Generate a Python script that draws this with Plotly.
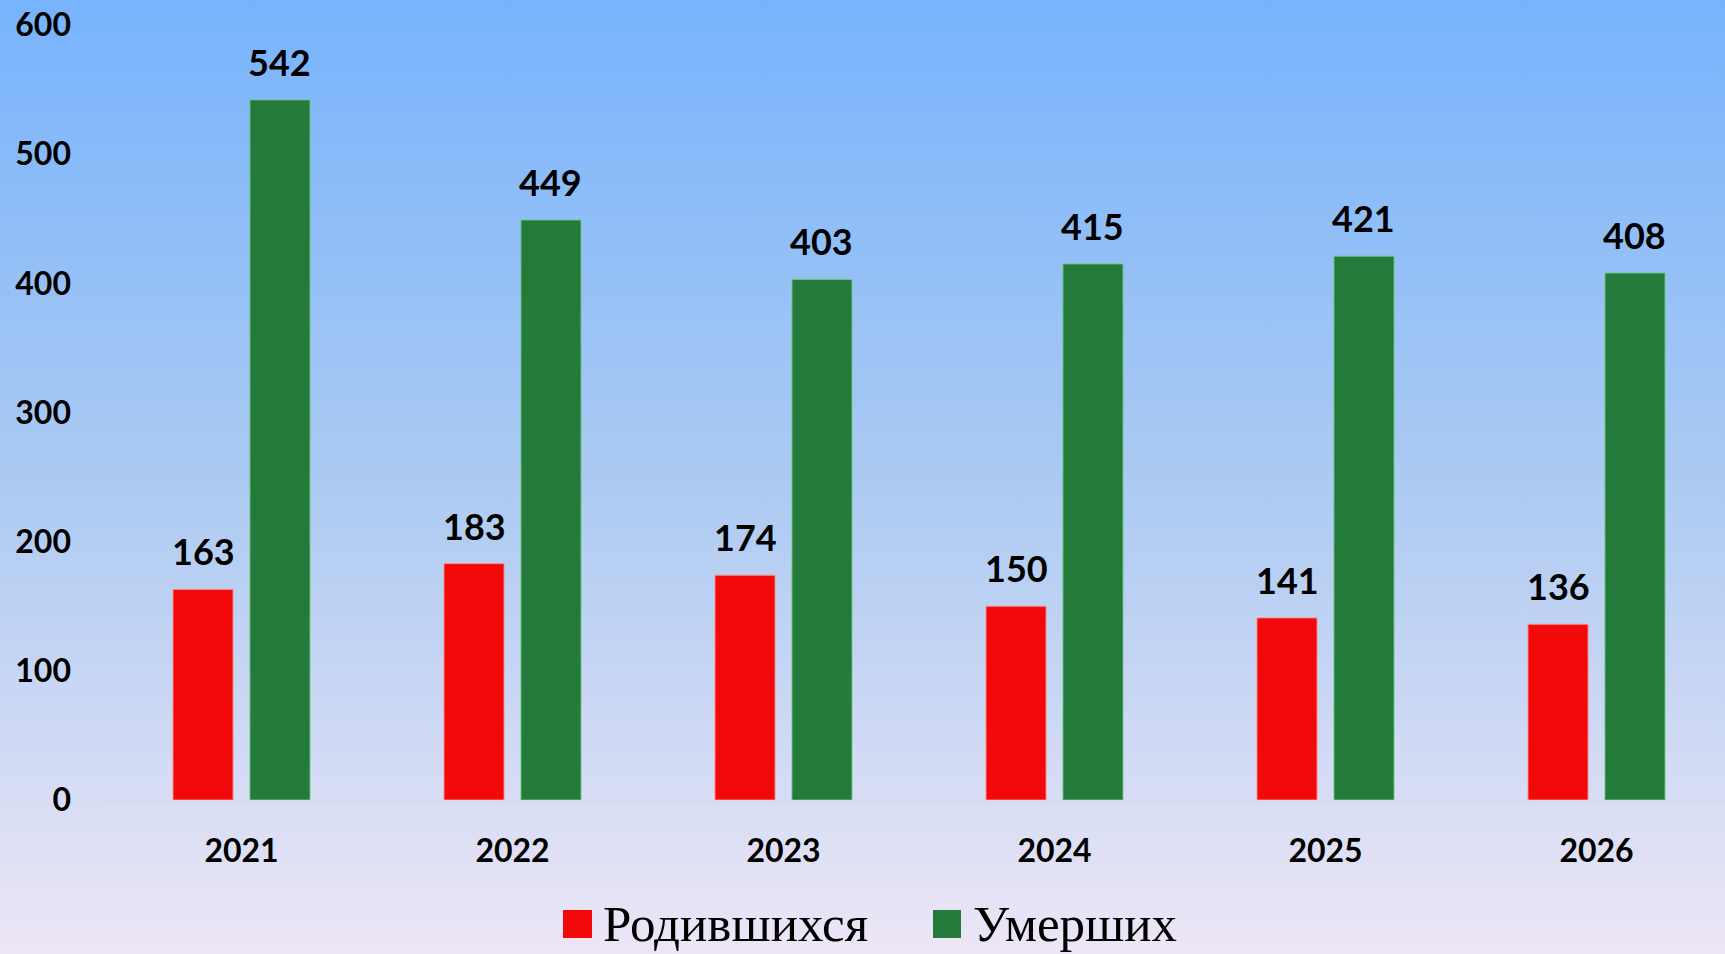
import base64
import plotly.graph_objects as go

years = ["2021", "2022", "2023", "2024", "2025", "2026"]
born = [163, 183, 174, 150, 141, 136]
died = [542, 449, 403, 415, 421, 408]
series_names = ["Родившихся", "Умерших"]
series_colors = ["#f20a0a", "#237a3a"]
y_ticks = [0, 100, 200, 300, 400, 500, 600]

W, H = 1725, 954
L, R, T, B = 106, 0, 25, 154
pw, ph = W - L - R, H - T - B

svg = f'''<svg xmlns="http://www.w3.org/2000/svg" width="{W}" height="{H}" preserveAspectRatio="none">
<defs><linearGradient id="g" x1="0" y1="0" x2="0" y2="1">
<stop offset="0" stop-color="#77b3fd"/>
<stop offset="0.5" stop-color="#abcaf2"/>
<stop offset="1" stop-color="#ede6f6"/>
</linearGradient></defs>
<rect width="{W}" height="{H}" fill="url(#g)"/></svg>'''
bg_src = "data:image/svg+xml;base64," + base64.b64encode(svg.encode()).decode()

fig = go.Figure()
fig.add_trace(go.Bar(
    x=years, y=born, name=series_names[0], showlegend=False,
    marker=dict(color=series_colors[0], line=dict(color="rgba(255,140,140,0.9)", width=1)),
))
fig.add_trace(go.Bar(
    x=years, y=died, name=series_names[1], showlegend=False,
    marker=dict(color=series_colors[1], line=dict(color="rgba(110,200,130,0.9)", width=1)),
))

label_font = dict(family="Lato", size=36, color="#000000", weight="bold")
for i, (b, d) in enumerate(zip(born, died)):
    fig.add_annotation(x=i, y=b, text=str(b), showarrow=False,
                       xshift=-38, yshift=14, yanchor="bottom", font=label_font)
    fig.add_annotation(x=i, y=d, text=str(d), showarrow=False,
                       xshift=38, yshift=14, yanchor="bottom", font=label_font)

# custom legend (pixel positions converted to paper coords)
def px(x):
    return (x - L) / pw

def py(y):
    return (H - B - y) / ph

legend_items = [(563, 592, 601), (933, 961, 971)]
for (x0, x1, tx), name, col in zip(legend_items, series_names, series_colors):
    fig.add_shape(type="rect", xref="paper", yref="paper",
                  x0=px(x0), x1=px(x1), y0=py(938), y1=py(910),
                  fillcolor=col, line=dict(width=0))
    fig.add_annotation(xref="paper", yref="paper", x=px(tx), y=py(924),
                       xanchor="left", yanchor="middle", showarrow=False, text=name,
                       font=dict(family="Liberation Serif", size=51, color="#000000"))

fig.update_layout(
    width=W, height=H,
    margin=dict(l=L, r=R, t=T, b=B, pad=0),
    paper_bgcolor="#ede6f6",
    plot_bgcolor="rgba(0,0,0,0)",
    barmode="group", bargap=0.432, bargroupgap=0.22,
    showlegend=False,
    images=[dict(source=bg_src, xref="paper", yref="paper",
                 x=-L / pw, y=1 + T / ph, sizex=W / pw, sizey=H / ph,
                 xanchor="left", yanchor="top", sizing="stretch", layer="below")],
    xaxis=dict(type="category", range=[-0.5, -0.5 + pw / 271.0], showgrid=False, zeroline=False,
               showline=True, linecolor="#d9d9d9", linewidth=1,
               tickfont=dict(family="Lato", size=32, color="#000000", weight="bold"),
               ticks="", ticklabelstandoff=23, fixedrange=True),
    yaxis=dict(range=[0, 600], tickvals=y_ticks, showgrid=False, zeroline=False,
               showline=False,
               tickfont=dict(family="Lato", size=32, color="#000000", weight="bold"),
               ticks="", ticklabelstandoff=34, fixedrange=True),
    font=dict(family="Lato"),
)

fig.write_html("out.html", config={"displayModeBar": False},
               post_script="document.body.style.margin='0';document.body.style.padding='0';")
